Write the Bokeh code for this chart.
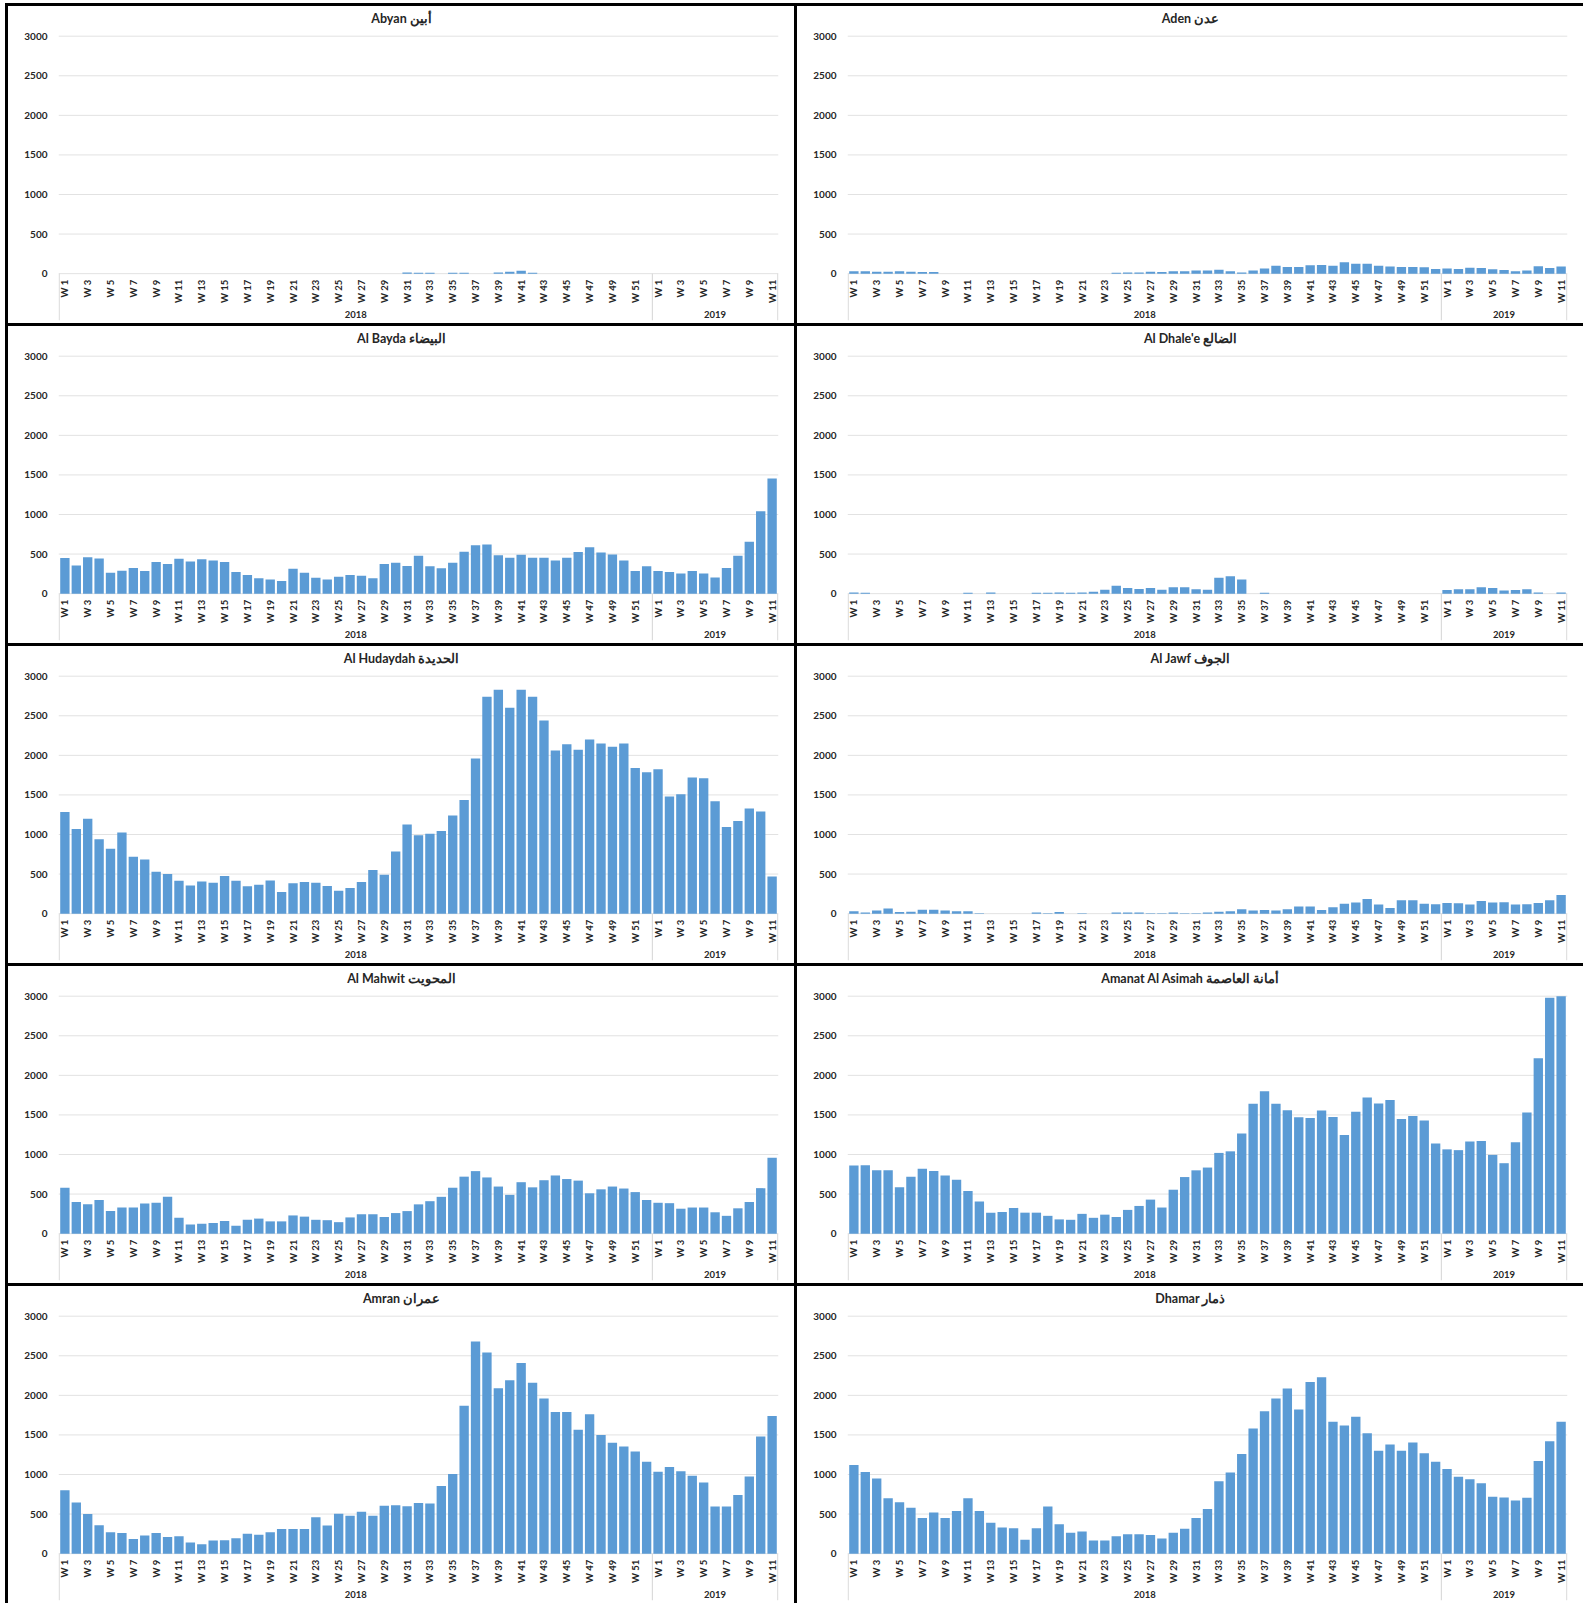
import math
from bokeh.plotting import figure
from bokeh.models import Range1d, FixedTicker, ColumnDataSource, BoxAnnotation
from bokeh.core.properties import value
from bokeh.layouts import gridplot
from bokeh.embed import file_html
from bokeh.resources import INLINE

# ---------------- data ----------------
years = [2018] * 52 + [2019] * 11
week_nums = list(range(1, 53)) + list(range(1, 12))
week_labels = ["W %d" % w for w in week_nums]
year_labels = ["2018", "2019"]
y_ticks = [0, 500, 1000, 1500, 2000, 2500, 3000]

abyan = [0, 0, 0, 0, 0, 0, 0, 0, 0, 0, 0, 0, 0, 0, 0, 0, 0, 0, 0, 0,
         0, 0, 0, 0, 0, 0, 0, 0, 0, 0, 15, 10, 10, 0, 10, 10, 0, 0, 15, 25,
         35, 10, 0, 0, 0, 0, 0, 0, 0, 0, 0, 0,
         0, 0, 0, 0, 0, 0, 0, 0, 0, 0, 0]
aden = [30, 30, 25, 25, 30, 25, 20, 20, 0, 0, 0, 0, 0, 0, 0, 0, 0, 0, 0, 0,
        0, 0, 0, 10, 15, 15, 25, 20, 30, 30, 40, 40, 50, 30, 15, 40, 65, 100, 85, 85,
        105, 110, 100, 145, 125, 125, 100, 90, 85, 85, 80, 60,
        65, 60, 75, 70, 55, 45, 30, 40, 95, 70, 90]
al_bayda = [450, 355, 460, 445, 265, 290, 325, 285, 400, 375, 440, 405, 435, 420, 400, 275, 235, 195, 180, 160,
            315, 265, 200, 180, 215, 235, 225, 195, 375, 390, 350, 480, 345, 320, 390, 530, 610, 620, 485, 455,
            490, 455, 455, 420, 455, 525, 585, 520, 495, 420, 285, 345,
            285, 275, 255, 285, 255, 205, 325, 480, 655, 1040, 1455]
al_dhalee = [15, 10, 0, 0, 0, 0, 0, 0, 0, 0, 10, 0, 15, 0, 0, 0, 10, 10, 15, 10,
             15, 25, 50, 100, 70, 60, 70, 50, 80, 80, 55, 50, 200, 220, 180, 0, 10, 0, 0, 0,
             0, 0, 0, 0, 0, 0, 0, 0, 0, 0, 0, 0,
             45, 55, 55, 80, 70, 40, 45, 55, 15, 0, 15]
al_hudaydah = [1285, 1070, 1200, 940, 820, 1025, 720, 685, 530, 500, 415, 355, 405, 390, 475, 415, 345, 365, 420, 275,
               385, 400, 390, 350, 290, 325, 400, 550, 490, 785, 1125, 990, 1010, 1045, 1240, 1435, 1960, 2740, 2830, 2600,
               2830, 2740, 2440, 2060, 2140, 2070, 2200, 2150, 2110, 2150, 1840, 1785,
               1825, 1480, 1510, 1720, 1710, 1420, 1095, 1170, 1330, 1290, 470]
al_jawf = [30, 15, 40, 65, 20, 25, 50, 50, 40, 30, 30, 5, 0, 0, 0, 0, 15, 5, 20, 0,
           5, 0, 0, 15, 15, 15, 5, 5, 15, 5, 5, 15, 25, 30, 55, 40, 45, 40, 55, 90,
           90, 45, 80, 125, 140, 185, 115, 70, 170, 170, 125, 120,
           135, 130, 115, 160, 140, 145, 115, 120, 135, 170, 235]
al_mahwit = [580, 400, 370, 425, 285, 330, 330, 380, 390, 465, 200, 115, 125, 135, 160, 100, 175, 190, 155, 155,
             230, 215, 175, 170, 145, 205, 245, 245, 210, 260, 285, 370, 410, 465, 580, 720, 790, 710, 595, 490,
             650, 585, 675, 735, 690, 670, 510, 560, 595, 570, 525, 425,
             390, 385, 315, 330, 330, 270, 225, 320, 400, 575, 960]
amanat_al_asimah = [860, 865, 800, 800, 585, 720, 820, 790, 735, 680, 540, 405, 265, 275, 325, 265, 265, 225, 180, 175,
                    250, 200, 240, 210, 300, 350, 430, 330, 555, 715, 800, 835, 1020, 1040, 1265, 1640, 1800, 1640, 1560, 1470,
                    1460, 1555, 1475, 1245, 1540, 1720, 1645, 1690, 1450, 1485, 1430, 1140,
                    1065, 1055, 1165, 1170, 995, 890, 1155, 1530, 2215, 2980, 3000]
amran = [800, 645, 500, 360, 270, 260, 185, 230, 260, 210, 220, 140, 120, 165, 170, 195, 250, 240, 270, 310,
         310, 310, 460, 355, 505, 480, 530, 480, 605, 610, 600, 640, 635, 855, 1005, 1870, 2680, 2540, 2090, 2190,
         2410, 2160, 1960, 1790, 1790, 1565, 1760, 1500, 1400, 1355, 1290, 1160,
         1035, 1095, 1040, 985, 900, 595, 595, 740, 975, 1480, 1740]
dhamar = [1120, 1030, 950, 700, 650, 580, 450, 520, 450, 540, 700, 540, 390, 330, 320, 175, 320, 595, 370, 265,
          280, 165, 165, 220, 245, 245, 235, 190, 265, 315, 450, 565, 915, 1025, 1260, 1580, 1800, 1960, 2085, 1820,
          2170, 2230, 1665, 1620, 1730, 1520, 1300, 1380, 1300, 1405, 1270, 1160,
          1070, 970, 940, 890, 720, 710, 670, 705, 1170, 1420, 1665]

titles = ["Abyan أبين", "Aden عدن", "Al Bayda البيضاء", "Al Dhale'e الضالع",
          "Al Hudaydah الحديدة", "Al Jawf الجوف", "Al Mahwit المحويت",
          "Amanat Al Asimah أمانة العاصمة", "Amran عمران", "Dhamar ذمار"]
series = [abyan, aden, al_bayda, al_dhalee, al_hudaydah, al_jawf, al_mahwit,
          amanat_al_asimah, amran, dhamar]

# ---------------- style ----------------
FONT = "Lato"
BAR = "#5B9BD5"
TXT = "#262626"
SEP = "#d4d4d4"
GRID = "#e2e2e2"
BOX = "#dadada"
W, H = 786, 317
BL, BR, BT, BB = 50, 16, 2, 3
Y_MAX = 3000
Y_TOP = 3350          # room above the plot area for the chart title
Y_LOW = -592          # room below the axis for week / year labels

n = len(years)
xs = list(range(n))
X0, X1 = -0.56, n - 0.44
wk_ticks = [i for i in xs if week_nums[i] % 2 == 1]
seps = [-0.5] + [i - 0.5 for i in range(1, n) if years[i] != years[i - 1]] + [n - 0.5]
groups = []
for yl in year_labels:
    idx = [i for i in xs if str(years[i]) == yl]
    groups.append((idx[0] + idx[-1]) / 2.0)
# title centred on the whole chart area (not just the plot area)
title_x = X0 + (W / 2.0 - BL) * (X1 - X0) / (W - BL - BR)

wk_src = ColumnDataSource(dict(x=wk_ticks, y=[0] * len(wk_ticks), t=[week_labels[i] for i in wk_ticks]))
sep_src = ColumnDataSource(dict(x=seps, y0=[0] * len(seps), y1=[Y_LOW] * len(seps)))
yr_src = ColumnDataSource(dict(x=groups, y=[0] * len(groups), t=year_labels))
grid_src = ColumnDataSource(dict(x0=[X0] * len(y_ticks), x1=[X1] * len(y_ticks), y=y_ticks))


def make(title, vals):
    p = figure(width=W, height=H, x_range=Range1d(X0, X1), y_range=Range1d(Y_LOW, Y_TOP),
               output_backend="svg", toolbar_location=None, x_axis_location=None, title_location=None,
               min_border_left=BL, min_border_right=BR, min_border_top=BT, min_border_bottom=BB)
    p.outline_line_color = None
    p.background_fill_color = None
    p.border_fill_color = None
    p.styles = {"background-color": "white"}
    p.xgrid.visible = False
    p.ygrid.visible = False

    # faint chart-area border
    p.add_layout(BoxAnnotation(left=13, right=W - 14, top=1, bottom=H - 2,
                               left_units="canvas", right_units="canvas",
                               top_units="canvas", bottom_units="canvas",
                               fill_color=None, line_color=BOX, line_width=1, level="underlay"))

    # horizontal gridlines
    p.segment(x0="x0", y0="y", x1="x1", y1="y", source=grid_src, line_color=GRID, line_width=1)

    src = ColumnDataSource(dict(x=xs, v=vals))
    p.vbar(x="x", top="v", bottom=0, width=0.82, source=src, fill_color=BAR, line_color=None)

    # category axis: week labels, group separators, year labels
    p.text(x="x", y="y", text="t", source=wk_src, angle=math.pi / 2, y_offset=6,
           text_align="right", text_baseline="middle", text_font=value(FONT),
           text_font_size="9.5px", text_font_style="bold", text_color=TXT)
    p.segment(x0="x", y0="y0", x1="x", y1="y1", source=sep_src, line_color=SEP, line_width=1)
    p.text(x="x", y="y", text="t", source=yr_src, y_offset=41,
           text_align="center", text_baseline="middle", text_font=value(FONT),
           text_font_size="9.5px", text_font_style="bold", text_color=TXT)

    # chart title
    p.text(x=[title_x], y=[Y_MAX], text=[title], y_offset=-17.5,
           text_align="center", text_baseline="middle", text_font=value(FONT),
           text_font_size="12.5px", text_font_style="bold", text_color=TXT)

    ya = p.yaxis[0]
    ya.ticker = FixedTicker(ticks=y_ticks)
    ya.axis_line_color = None
    ya.major_tick_line_color = None
    ya.minor_tick_line_color = None
    ya.major_label_text_font = FONT
    ya.major_label_text_font_size = "10px"
    ya.major_label_text_font_style = "bold"
    ya.major_label_text_color = TXT
    ya.major_label_standoff = 5
    return p


figs = [make(t, s) for t, s in zip(titles, series)]
grid = gridplot([figs[i:i + 2] for i in range(0, len(figs), 2)], toolbar_location=None)
grid.spacing = 3
grid.styles = {"background-color": "black", "padding": "3px 0px 0px 3px",
               "margin-left": "5px", "margin-top": "3px"}

open("out.html", "w").write(file_html(grid, INLINE))
